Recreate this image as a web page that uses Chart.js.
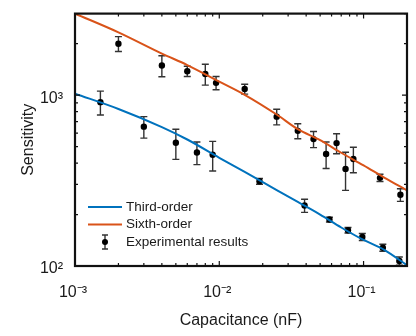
<!DOCTYPE html>
<html>
<head>
<meta charset="utf-8">
<script src="https://cdn.jsdelivr.net/npm/chart.js@4.4.1/dist/chart.umd.min.js"></script>
<style>
  html, body { margin: 0; padding: 0; background: #fff; }
</style>
</head>
<body>
<canvas id="chart-sensitivity" width="416" height="336"></canvas>
<script>
// ── Data: sensitivity vs capacitance (nF), log–log
const fitCap     = [0.001, 0.002, 0.004, 0.006, 0.01, 0.015, 0.025, 0.035, 0.05, 0.07, 0.1, 0.14, 0.2];
const thirdOrder = [1020, 830, 650, 550, 430, 355, 278, 237, 200, 168, 142, 124, 101];
const sixthOrder = [3000, 2330, 1750, 1500, 1200, 1005, 770, 632, 545, 460, 388, 328, 277];

// measured points (upper group then lower group), with ± error
const expCap  = [0.002, 0.004, 0.006, 0.008, 0.0095, 0.015, 0.025, 0.035, 0.045, 0.055, 0.065, 0.075, 0.085, 0.13, 0.18,
                 0.0015, 0.003, 0.005, 0.007, 0.009, 0.019, 0.039, 0.058, 0.078, 0.098, 0.136, 0.177];
const expSens = [2000, 1490, 1380, 1330, 1180, 1085, 748, 618, 553, 452, 524, 370, 423, 328, 261,
                 910, 654, 526, 462, 448, 313, 226, 187, 162, 148, 128, 107];
const expErr  = [200, 210, 95, 185, 105, 72, 78, 62, 60, 80, 70, 93, 72, 16, 22,
                 145, 94, 105, 70, 88, 12, 20, 6, 6, 7, 6, 6];

const xTicks = [0.001, 0.002, 0.003, 0.004, 0.005, 0.006, 0.007, 0.008, 0.009,
                0.01, 0.02, 0.03, 0.04, 0.05, 0.06, 0.07, 0.08, 0.09, 0.1, 0.2];
const yTicks = [100, 200, 300, 400, 500, 600, 700, 800, 900, 1000, 2000, 3000];

const BLUE = '#0072BD';
const ORANGE = '#D95319';
const FONT = '"Liberation Sans", Arial, sans-serif';
const INK = '#1a1a1a';

const SUP = { '-': '⁻', '0': '⁰', '1': '¹', '2': '²', '3': '³', '4': '⁴' };
const isDecade = v => Math.abs(Math.log10(v) - Math.round(Math.log10(v))) < 1e-9;
const powLabel = v => '10' + String(Math.round(Math.log10(v))).split('').map(c => SUP[c]).join('');

// error bars under the measured markers
const errorBars = {
  id: 'errorBars',
  beforeDatasetDraw(chart, args) {
    if (args.index !== 2) return;
    const { ctx, scales: { x, y } } = chart;
    ctx.save();
    ctx.strokeStyle = '#333';
    ctx.lineWidth = 1.4;
    expCap.forEach((c, i) => {
      const px = x.getPixelForValue(c);
      const top = y.getPixelForValue(expSens[i] + expErr[i]);
      const bot = y.getPixelForValue(expSens[i] - expErr[i]);
      ctx.beginPath();
      ctx.moveTo(px, top); ctx.lineTo(px, bot);
      ctx.moveTo(px - 3.5, top); ctx.lineTo(px + 3.5, top);
      ctx.moveTo(px - 3.5, bot); ctx.lineTo(px + 3.5, bot);
      ctx.stroke();
    });
    ctx.restore();
  }
};

// boxed axes with inward ticks on all four sides
const boxAxes = {
  id: 'boxAxes',
  afterDraw(chart) {
    const { ctx, chartArea: a, scales: { x, y } } = chart;
    ctx.save();
    ctx.strokeStyle = '#111';
    ctx.lineWidth = 1.2;
    ctx.beginPath();
    xTicks.forEach(v => {
      const px = x.getPixelForValue(v);
      const len = isDecade(v) ? 5 : 3;
      ctx.moveTo(px, a.bottom); ctx.lineTo(px, a.bottom - len);
      ctx.moveTo(px, a.top); ctx.lineTo(px, a.top + len);
    });
    yTicks.forEach(v => {
      const py = y.getPixelForValue(v);
      const len = isDecade(v) ? 5 : 3;
      ctx.moveTo(a.left, py); ctx.lineTo(a.left + len, py);
      ctx.moveTo(a.right, py); ctx.lineTo(a.right - len, py);
    });
    ctx.stroke();
    ctx.lineWidth = 2.2;
    ctx.strokeRect(a.left, a.top, a.right - a.left, a.bottom - a.top);
    ctx.restore();
  }
};

// legend inside the lower-left of the plot
const insetLegend = {
  id: 'insetLegend',
  afterDraw(chart) {
    const { ctx, chartArea: a } = chart;
    const x0 = a.left + 13, x1 = a.left + 47, tx = a.left + 51;
    const rows = [
      { label: 'Third-order', color: BLUE, y: 207 },
      { label: 'Sixth-order', color: ORANGE, y: 224.5 },
      { label: 'Experimental results', y: 242 },
    ];
    ctx.save();
    ctx.font = '13.5px ' + FONT;
    ctx.textBaseline = 'middle';
    rows.forEach(r => {
      if (r.color) {
        ctx.strokeStyle = r.color;
        ctx.lineWidth = 2;
        ctx.beginPath(); ctx.moveTo(x0, r.y); ctx.lineTo(x1, r.y); ctx.stroke();
      } else {
        const cx = (x0 + x1) / 2;
        ctx.strokeStyle = '#333';
        ctx.lineWidth = 1.4;
        ctx.beginPath();
        ctx.moveTo(cx, r.y - 7); ctx.lineTo(cx, r.y + 7);
        ctx.moveTo(cx - 3, r.y - 7); ctx.lineTo(cx + 3, r.y - 7);
        ctx.moveTo(cx - 3, r.y + 7); ctx.lineTo(cx + 3, r.y + 7);
        ctx.stroke();
        ctx.fillStyle = '#000';
        ctx.beginPath(); ctx.arc(cx, r.y, 3, 0, Math.PI * 2); ctx.fill();
      }
      ctx.fillStyle = INK;
      ctx.fillText(r.label, tx, r.y);
    });
    ctx.restore();
  }
};

new Chart(document.getElementById('chart-sensitivity'), {
  type: 'line',
  data: {
    datasets: [
      {
        label: 'Third-order',
        data: fitCap.map((c, i) => ({ x: c, y: thirdOrder[i] })),
        borderColor: BLUE, borderWidth: 2, pointRadius: 0,
        cubicInterpolationMode: 'monotone',
      },
      {
        label: 'Sixth-order',
        data: fitCap.map((c, i) => ({ x: c, y: sixthOrder[i] })),
        borderColor: ORANGE, borderWidth: 2, pointRadius: 0,
        cubicInterpolationMode: 'monotone',
      },
      {
        label: 'Experimental results',
        data: expCap.map((c, i) => ({ x: c, y: expSens[i] })),
        showLine: false,
        pointRadius: 3.2, pointBackgroundColor: '#000', pointBorderColor: '#000', pointBorderWidth: 0,
      },
    ]
  },
  options: {
    responsive: false,
    animation: false,
    layout: { padding: { left: 0, right: 8, top: 12, bottom: 0 } },
    plugins: {
      legend: { display: false },
      tooltip: { enabled: false },
    },
    scales: {
      x: {
        type: 'logarithmic', min: 0.001, max: 0.2,
        afterBuildTicks: s => { s.ticks = xTicks.map(v => ({ value: v })); },
        afterFit: s => { s.height = 70; },
        grid: { display: false }, border: { display: false },
        ticks: {
          autoSkip: false, maxRotation: 0, padding: 9, labelOffset: -2, color: INK,
          font: { family: FONT, size: 16 },
          callback: v => isDecade(v) ? powLabel(v) : '',
        },
        title: { display: true, text: 'Capacitance (nF)', color: INK, font: { family: FONT, size: 16 }, padding: { top: 0, bottom: 6 } },
      },
      y: {
        type: 'logarithmic', min: 100, max: 3000,
        afterBuildTicks: s => { s.ticks = yTicks.map(v => ({ value: v })); },
        afterFit: s => { s.width = 75; },
        grid: { display: false }, border: { display: false },
        ticks: {
          autoSkip: false, padding: 4, labelOffset: 3, color: INK,
          font: { family: FONT, size: 16 },
          callback: v => isDecade(v) ? powLabel(v) : '',
        },
        title: { display: true, text: 'Sensitivity', color: INK, font: { family: FONT, size: 16 }, padding: { top: 19, bottom: 0 } },
      },
    }
  },
  plugins: [errorBars, boxAxes, insetLegend]
});
</script>
</body>
</html>
